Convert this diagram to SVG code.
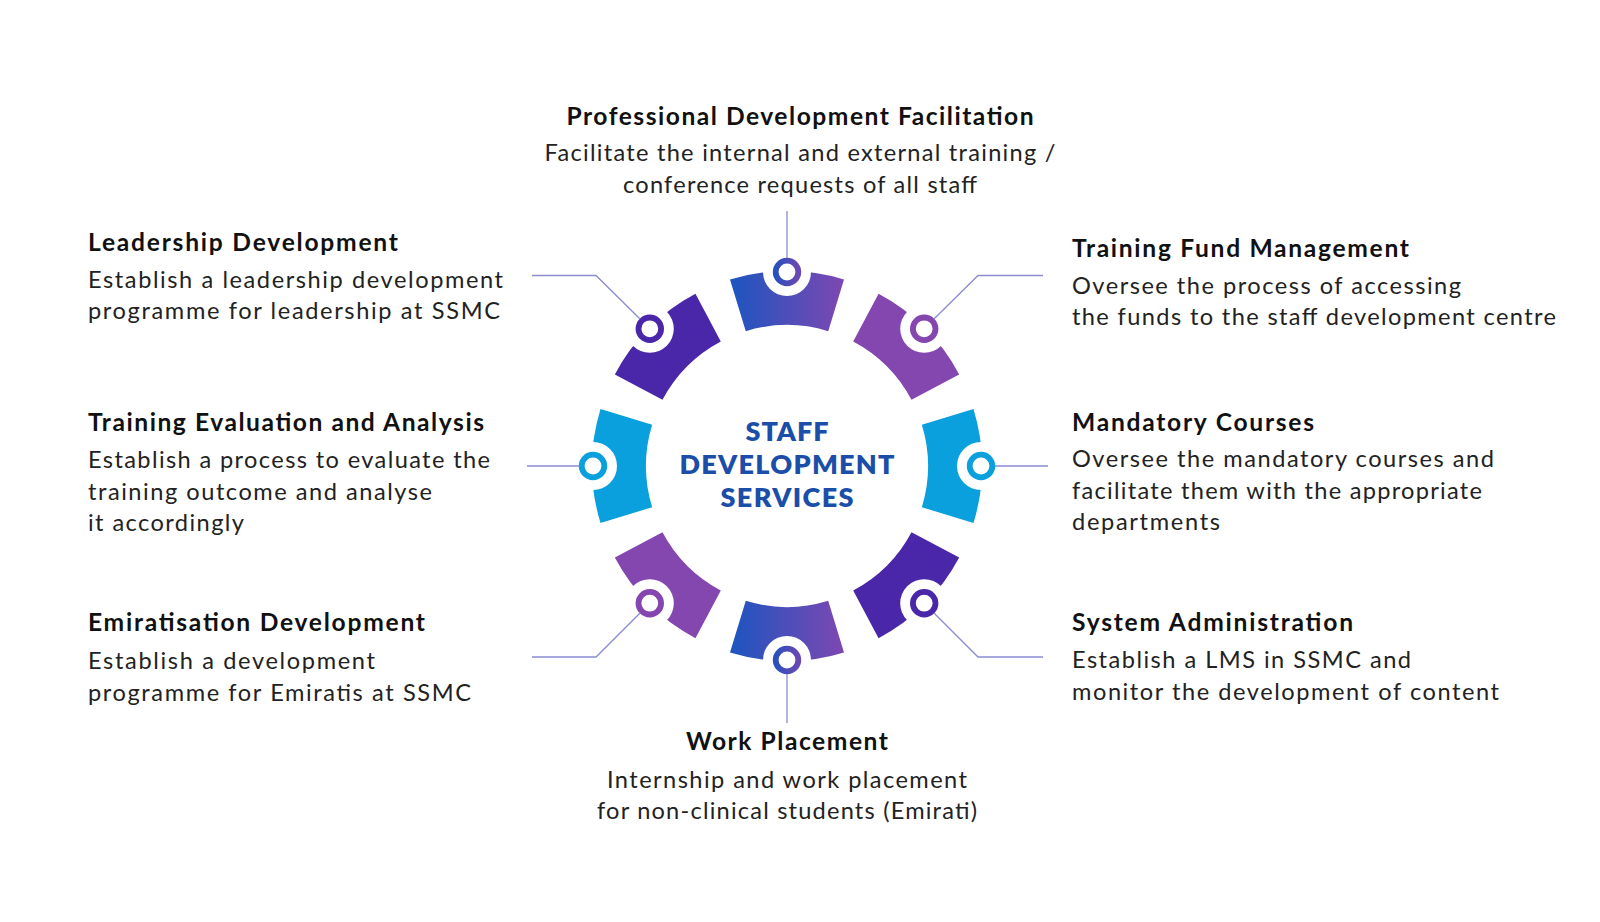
<svg xmlns="http://www.w3.org/2000/svg" width="1600" height="922" viewBox="0 0 1600 922">
<defs>
<linearGradient id="gTop" x1="0" y1="0" x2="1" y2="0">
<stop offset="0" stop-color="#1C55C0"/>
<stop offset="1" stop-color="#7E47B2"/>
</linearGradient>
<linearGradient id="gNode" x1="0" y1="0" x2="1" y2="0">
<stop offset="0" stop-color="#2A50BC"/>
<stop offset="1" stop-color="#6A48B4"/>
</linearGradient>
<path id="seg" d="M 729.99 279.52 A 195 195 0 0 1 844.01 279.52 L 828.22 331.16 A 141 141 0 0 0 745.78 331.16 Z"/>
</defs>
<style>
.title{font-family:Lato,"Noto Sans",sans-serif;font-weight:700;font-size:24.6px;fill:#111111}
.body{font-family:Lato,"Noto Sans",sans-serif;font-weight:400;font-size:23.6px;fill:#222222}
.mid{text-anchor:middle}
.center{font-family:Lato,"Noto Sans",sans-serif;font-weight:800;font-size:27px;fill:#1B4EA8;text-anchor:middle}
.notch{fill:#ffffff}
.ring{fill:#ffffff;stroke-width:5.8}
.conn{fill:none;stroke:#8A8CD0;stroke-width:1.3}
</style>
<rect x="0" y="0" width="1600" height="922" fill="#ffffff"/>

<g id="hub">
<text class="center" x="787" y="441" textLength="83" lengthAdjust="spacing">STAFF</text>
<text class="center" x="787" y="474" textLength="215" lengthAdjust="spacing">DEVELOPMENT</text>
<text class="center" x="787" y="507" textLength="133" lengthAdjust="spacing">SERVICES</text>
</g>

<g id="node-professional-development">
<use href="#seg" fill="url(#gTop)"/>
<circle class="notch" cx="787" cy="272" r="24"/>
<circle class="ring" cx="787" cy="272" r="11.3" stroke="url(#gNode)"/>
<text class="title mid" x="800" y="125" textLength="467" lengthAdjust="spacing">Professional Development Facilitation</text>
<text class="body mid" x="800" y="161" textLength="511" lengthAdjust="spacing">Facilitate the internal and external training /</text>
<text class="body mid" x="800" y="193" textLength="354" lengthAdjust="spacing">conference requests of all staff</text>
</g>

<g id="node-training-fund">
<use href="#seg" fill="#8447AF" transform="rotate(45 787 466)"/>
<circle class="notch" cx="924.2" cy="328.8" r="24"/>
<circle class="ring" cx="924.2" cy="328.8" r="11.3" stroke="#8447AF"/>
<text class="title" x="1072" y="257" textLength="337" lengthAdjust="spacing">Training Fund Management</text>
<text class="body" x="1072" y="294" textLength="389" lengthAdjust="spacing">Oversee the process of accessing</text>
<text class="body" x="1072" y="325" textLength="484" lengthAdjust="spacing">the funds to the staff development centre</text>
</g>

<g id="node-mandatory-courses">
<use href="#seg" fill="#0A9FDD" transform="rotate(90 787 466)"/>
<circle class="notch" cx="981" cy="466" r="24"/>
<circle class="ring" cx="981" cy="466" r="11.3" stroke="#0A9FDD"/>
<text class="title" x="1072" y="431" textLength="242" lengthAdjust="spacing">Mandatory Courses</text>
<text class="body" x="1072" y="467" textLength="422" lengthAdjust="spacing">Oversee the mandatory courses and</text>
<text class="body" x="1072" y="499" textLength="410" lengthAdjust="spacing">facilitate them with the appropriate</text>
<text class="body" x="1072" y="530" textLength="148" lengthAdjust="spacing">departments</text>
</g>

<g id="node-system-administration">
<use href="#seg" fill="#4A26A8" transform="rotate(135 787 466)"/>
<circle class="notch" cx="924.2" cy="603.2" r="24"/>
<circle class="ring" cx="924.2" cy="603.2" r="11.3" stroke="#4A26A8"/>
<text class="title" x="1072" y="631" textLength="281" lengthAdjust="spacing">System Administration</text>
<text class="body" x="1072" y="668" textLength="339" lengthAdjust="spacing">Establish a LMS in SSMC and</text>
<text class="body" x="1072" y="700" textLength="427" lengthAdjust="spacing">monitor the development of content</text>
</g>

<g id="node-work-placement">
<use href="#seg" fill="url(#gTop)" transform="rotate(180 787 466) scale(-1 1) translate(-1574 0)"/>
<circle class="notch" cx="787" cy="660" r="24"/>
<circle class="ring" cx="787" cy="660" r="11.3" stroke="url(#gNode)"/>
<text class="title mid" x="787" y="750" textLength="202" lengthAdjust="spacing">Work Placement</text>
<text class="body mid" x="787" y="788" textLength="360" lengthAdjust="spacing">Internship and work placement</text>
<text class="body mid" x="787" y="819" textLength="380" lengthAdjust="spacing">for non-clinical students (Emirati)</text>
</g>

<g id="node-emiratisation-development">
<use href="#seg" fill="#8447AF" transform="rotate(225 787 466)"/>
<circle class="notch" cx="649.8" cy="603.2" r="24"/>
<circle class="ring" cx="649.8" cy="603.2" r="11.3" stroke="#8447AF"/>
<text class="title" x="88" y="631" textLength="337" lengthAdjust="spacing">Emiratisation Development</text>
<text class="body" x="88" y="669" textLength="287" lengthAdjust="spacing">Establish a development</text>
<text class="body" x="88" y="701" textLength="383" lengthAdjust="spacing">programme for Emiratis at SSMC</text>
</g>

<g id="node-training-evaluation">
<use href="#seg" fill="#0A9FDD" transform="rotate(270 787 466)"/>
<circle class="notch" cx="593" cy="466" r="24"/>
<circle class="ring" cx="593" cy="466" r="11.3" stroke="#0A9FDD"/>
<text class="title" x="88" y="431" textLength="396" lengthAdjust="spacing">Training Evaluation and Analysis</text>
<text class="body" x="88" y="468" textLength="402" lengthAdjust="spacing">Establish a process to evaluate the</text>
<text class="body" x="88" y="500" textLength="344" lengthAdjust="spacing">training outcome and analyse</text>
<text class="body" x="88" y="531" textLength="156" lengthAdjust="spacing">it accordingly</text>
</g>

<g id="node-leadership-development">
<use href="#seg" fill="#4A26A8" transform="rotate(315 787 466)"/>
<circle class="notch" cx="649.8" cy="328.8" r="24"/>
<circle class="ring" cx="649.8" cy="328.8" r="11.3" stroke="#4A26A8"/>
<text class="title" x="88" y="251" textLength="310" lengthAdjust="spacing">Leadership Development</text>
<text class="body" x="88" y="288" textLength="415" lengthAdjust="spacing">Establish a leadership development</text>
<text class="body" x="88" y="319" textLength="412" lengthAdjust="spacing">programme for leadership at SSMC</text>
</g>

<g id="connectors">
<line class="conn" x1="787" y1="211" x2="787" y2="258"/>
<polyline class="conn" points="532,275.5 596,275.5 639.8,318.8"/>
<polyline class="conn" points="1043,275.5 978,275.5 934.2,318.8"/>
<line class="conn" x1="527" y1="466" x2="579" y2="466"/>
<line class="conn" x1="995" y1="466" x2="1048" y2="466"/>
<polyline class="conn" points="532,657 596,657 639.8,613.2"/>
<polyline class="conn" points="1043,657 978,657 934.2,613.2"/>
<line class="conn" x1="787" y1="674" x2="787" y2="723"/>
</g>
</svg>
